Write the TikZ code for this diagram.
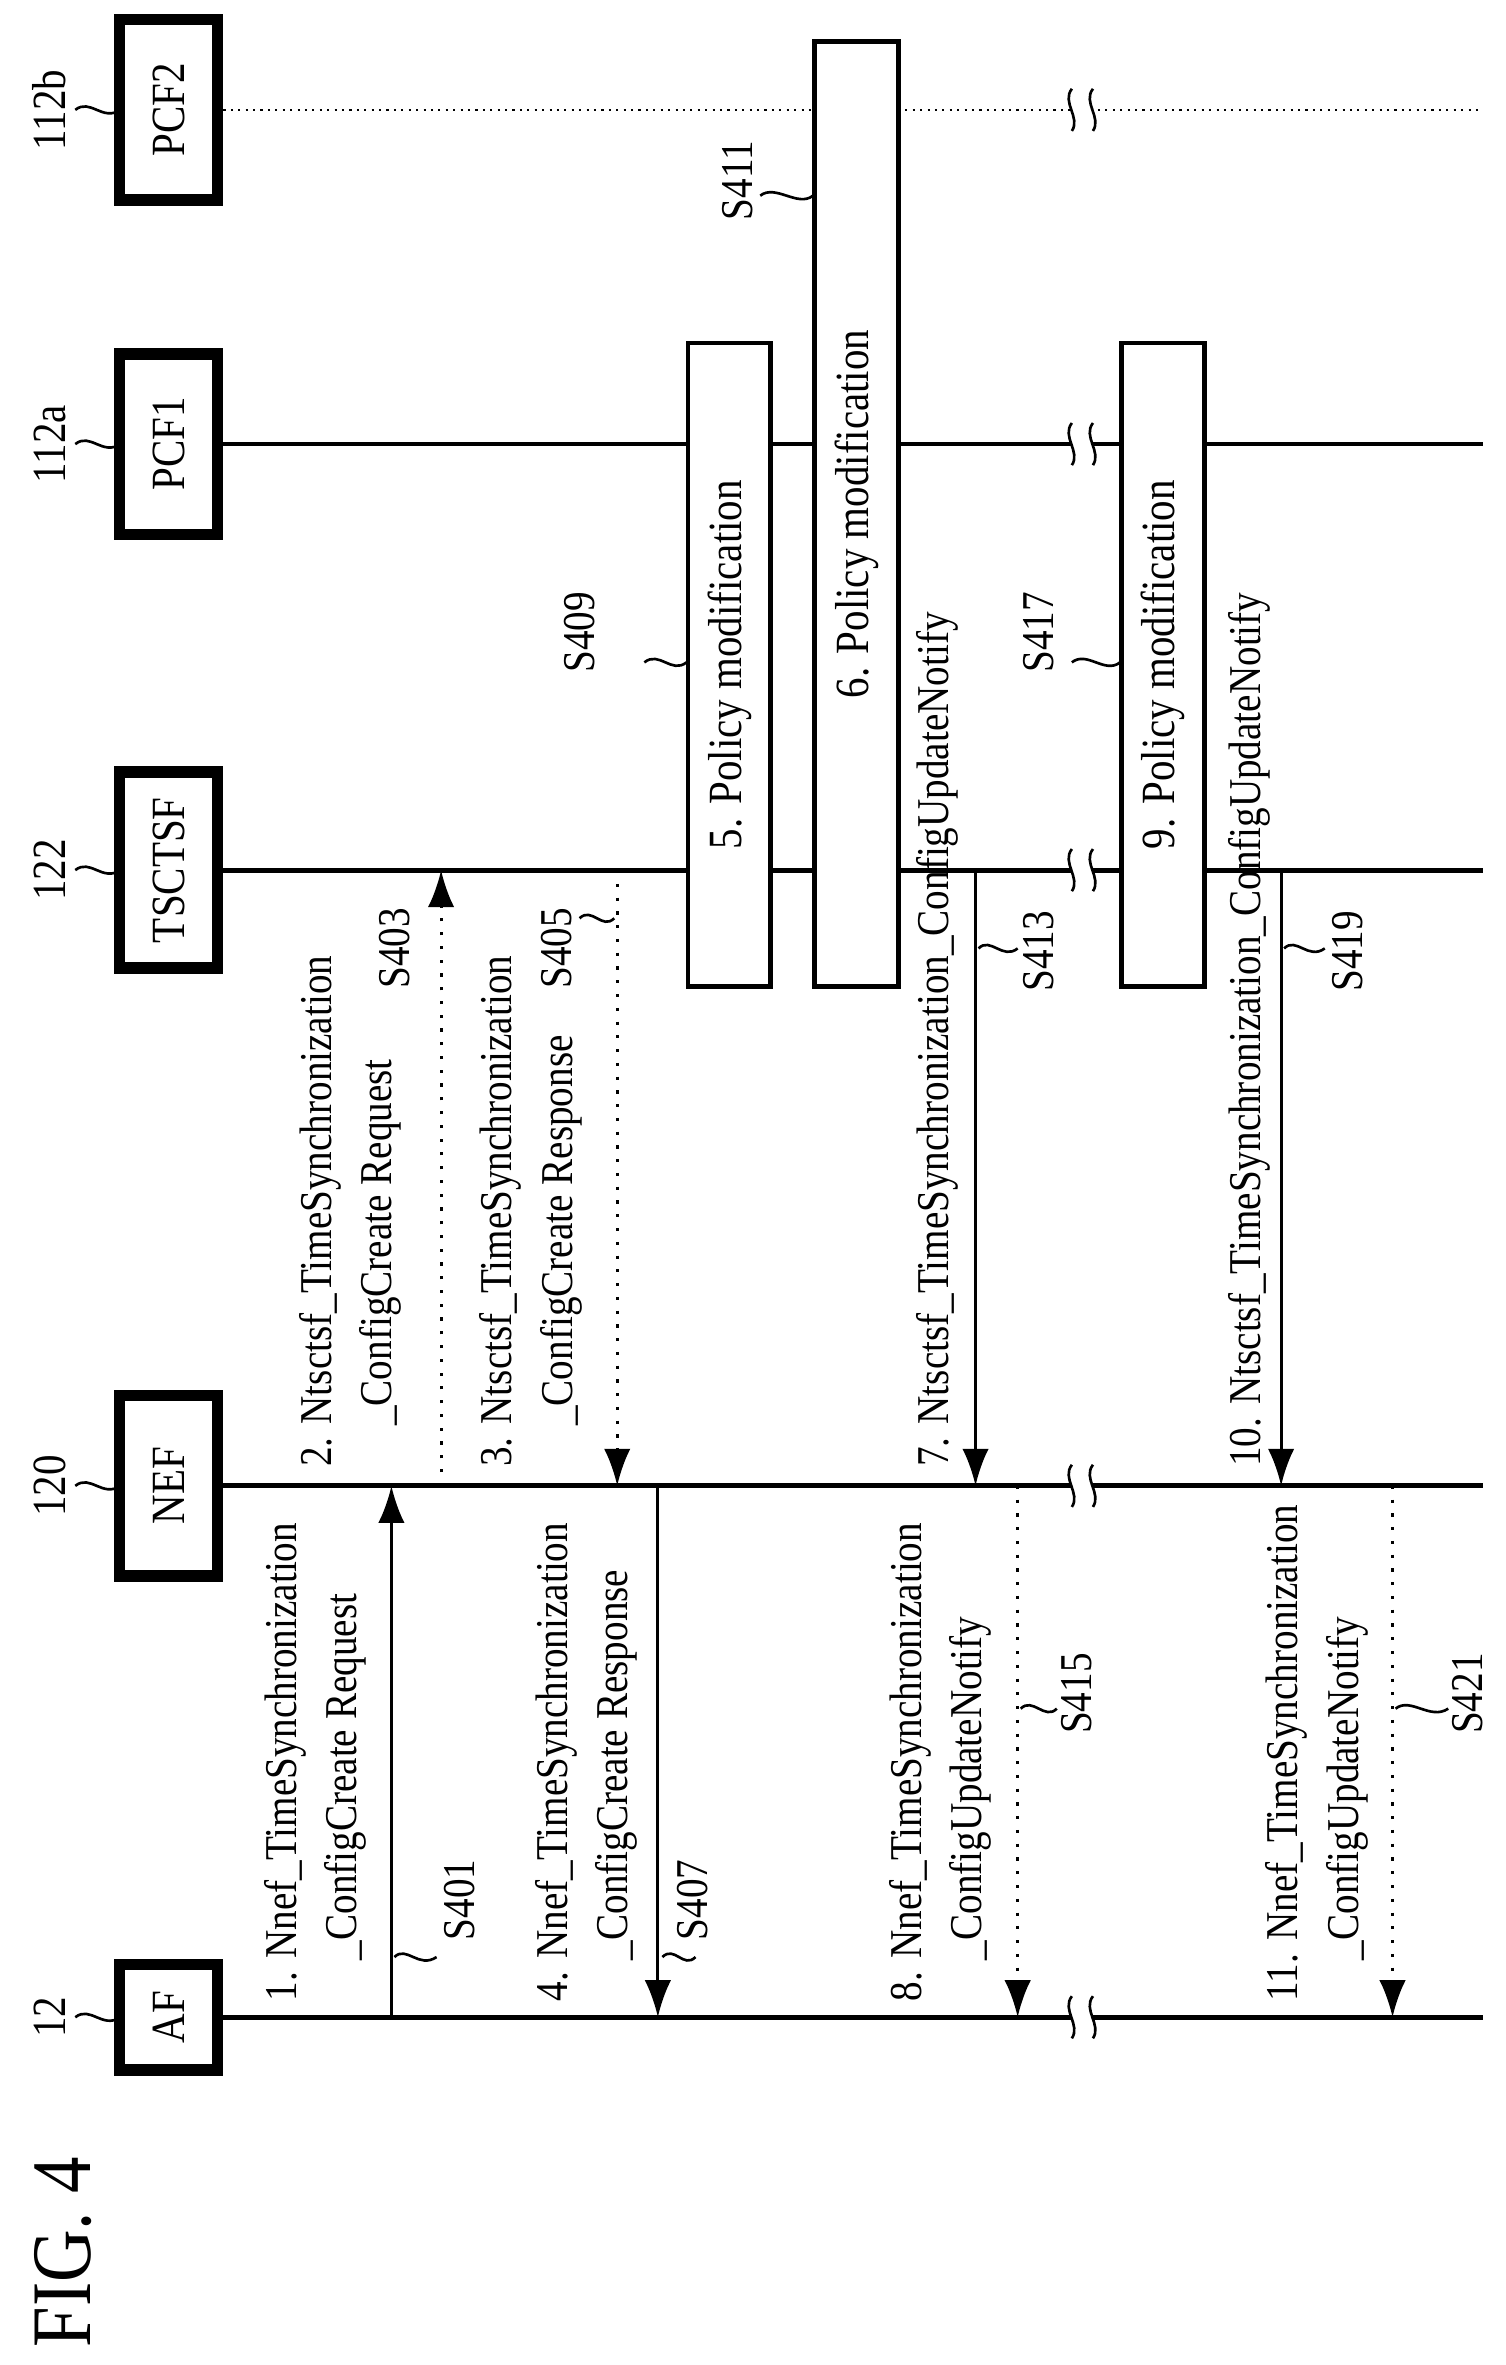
\documentclass[tikz,border=0pt]{standalone}
\usepackage{fontspec}
\setmainfont{Liberation Serif}[FakeStretch=0.86]
\begin{document}
\begin{tikzpicture}[x=0.01cm,y=-0.01cm,
  ent/.style={draw,line width=2.2pt,minimum width=0.65cm,minimum height=1.2cm,inner sep=0pt},
  life/.style={line width=0.9pt},
  msg/.style={line width=0.6pt,-{Latex[length=7pt,width=5pt]}},
  dmsg/.style={line width=0.6pt,dotted,-{Latex[length=7pt,width=5pt]}},
  lab/.style={rotate=90,anchor=north west,align=left,inner sep=0pt,font=\fontsize{8.6}{11.4}\selectfont},
  sl/.style={rotate=90,inner sep=0pt,font=\fontsize{8.6}{10}\selectfont},
  actbox/.style={draw,fill=white,line width=0.9pt},
  lead/.style={line width=0.5pt}]
\usetikzlibrary{arrows.meta}
\useasboundingbox (0,0) rectangle (1000,1571);
% lifelines
\coordinate (afE) at (985,1340); \coordinate (nefE) at (985,987);
\coordinate (tsE) at (985,578); \coordinate (p1E) at (985,295); \coordinate (p2E) at (985,73);
\node[ent,minimum height=0.7cm] (af) at (112,1340) {}; \node[rotate=90,font=\fontsize{9}{10}\selectfont] at (af) {AF};
\node[ent] (nef) at (112,987) {}; \node[rotate=90,font=\fontsize{9}{10}\selectfont] at (nef) {NEF};
\node[ent,minimum height=1.3cm] (ts) at (112,578) {}; \node[rotate=90,font=\fontsize{9}{10}\selectfont] at (ts) {TSCTSF};
\node[ent] (p1) at (112,295) {}; \node[rotate=90,font=\fontsize{9}{10}\selectfont] at (p1) {PCF1};
\node[ent] (p2) at (112,73) {}; \node[rotate=90,font=\fontsize{9}{10}\selectfont] at (p2) {PCF2};
\draw[life] (af.east) -- (afE);
\draw[life] (nef.east) -- (nefE);
\draw[life] (ts.east) -- (tsE);
\draw[life] (p1.east) -- (p1E);
\draw[line width=0.4pt,densely dotted] (p2.east) -- (p2E);
% ref labels
\foreach \y/\t in {1340/12,987/120,578/122,295/112a,73/112b}{
  \node[sl,font=\fontsize{9}{10}\selectfont] at (33,\y) {\t};
  \draw[lead] (50,\y) .. controls (60,\y-8) and (68,\y+8) .. (80,\y);
}
\node[rotate=90,anchor=west,inner sep=0pt,font=\fontsize{16}{18}\selectfont] (fig) at (42,1560) {FIG. 4};
% breaks
\foreach \y in {1340,987,578,295,73}{
  \fill[white] (712,\y-14) rectangle (726,\y+14);
  \draw[lead] (712,\y-14) .. controls (705,\y-5) and (718,\y+5) .. (712,\y+14);
  \draw[lead] (726,\y-14) .. controls (719,\y-5) and (732,\y+5) .. (726,\y+14);
}
% activation boxes
\node[actbox,minimum width=0.55cm,minimum height=4.27cm,inner sep=0pt] (b5) at (484.5,441.5) {};
\node[sl,font=\fontsize{9}{10}\selectfont] at (b5) {5. Policy modification};
\node[actbox,minimum width=0.56cm,minimum height=6.27cm,inner sep=0pt] (b6) at (569,341.5) {};
\node[sl,font=\fontsize{9}{10}\selectfont] at (b6) {6. Policy modification};
\node[actbox,minimum width=0.55cm,minimum height=4.27cm,inner sep=0pt] (b9) at (772.5,441.5) {};
\node[sl,font=\fontsize{9}{10}\selectfont] at (b9) {9. Policy modification};
% messages
\coordinate (m1a) at (260,1340); \coordinate (m1b) at (260,987);
\coordinate (m2a) at (293,987); \coordinate (m2b) at (293,578);
\coordinate (m3a) at (410,578); \coordinate (m3b) at (410,987);
\coordinate (m4a) at (437,987); \coordinate (m4b) at (437,1340);
\coordinate (m7a) at (648,578); \coordinate (m7b) at (648,987);
\coordinate (m8a) at (676,987); \coordinate (m8b) at (676,1340);
\coordinate (m10a) at (851,578); \coordinate (m10b) at (851,987);
\coordinate (m11a) at (925,987); \coordinate (m11b) at (925,1340);
\draw[msg] (m1a) -- (m1b);
\draw[dmsg] (m2a) -- (m2b);
\draw[dmsg] (m3a) -- (m3b);
\draw[msg] (m4a) -- (m4b);
\draw[msg] (m7a) -- (m7b);
\draw[dmsg] (m8a) -- (m8b);
\draw[msg] (m10a) -- (m10b);
\draw[dmsg] (m11a) -- (m11b);
% message labels
\node[lab] (l1) at (175,1330) {1. Nnef\_TimeSynchronization\\\hspace*{0.9em}\_ConfigCreate Request};
\node[lab] (l2) at (198,975) {2. Ntsctsf\_TimeSynchronization\\\hspace*{0.9em}\_ConfigCreate Request};
\node[lab] (l3) at (318,975) {3. Ntsctsf\_TimeSynchronization\\\hspace*{0.9em}\_ConfigCreate Response};
\node[lab] (l4) at (355,1330) {4. Nnef\_TimeSynchronization\\\hspace*{0.9em}\_ConfigCreate Response};
\node[lab] (l7) at (608,975) {7. Ntsctsf\_TimeSynchronization\_ConfigUpdateNotify};
\node[lab] (l8) at (590,1330) {8. Nnef\_TimeSynchronization\\\hspace*{0.9em}\_ConfigUpdateNotify};
\node[lab] (l10) at (815,975) {10. Ntsctsf\_TimeSynchronization\_ConfigUpdateNotify};
\node[lab] (l11) at (840,1330) {11. Nnef\_TimeSynchronization\\\hspace*{0.9em}\_ConfigUpdateNotify};
% step labels
\node[sl] (s401) at (305,1262) {S401}; \draw[lead] (262,1300) .. controls (270,1292) and (278,1308) .. (290,1300);
\node[sl] (s403) at (262,630) {S403};
\node[sl] (s405) at (370,630) {S405}; \draw[lead] (385,610) .. controls (393,602) and (400,618) .. (408,610);
\node[sl] (s407) at (460,1262) {S407}; \draw[lead] (440,1300) .. controls (448,1292) and (454,1308) .. (462,1300);
\node[sl] (s409) at (385,420) {S409}; \draw[lead] (428,440) .. controls (438,432) and (446,448) .. (456,440);
\node[sl] (s411) at (490,120) {S411}; \draw[lead] (505,130) .. controls (515,122) and (530,138) .. (540,130);
\node[sl] (s413) at (690,632) {S413}; \draw[lead] (650,630) .. controls (658,622) and (666,638) .. (676,630);
\node[sl] (s415) at (715,1125) {S415}; \draw[lead] (678,1135) .. controls (686,1127) and (694,1143) .. (702,1135);
\node[sl] (s417) at (690,420) {S417}; \draw[lead] (712,440) .. controls (722,432) and (734,448) .. (744,440);
\node[sl] (s419) at (895,632) {S419}; \draw[lead] (853,630) .. controls (861,622) and (869,638) .. (880,630);
\node[sl] (s421) at (975,1125) {S421}; \draw[lead] (927,1135) .. controls (937,1127) and (950,1143) .. (962,1135);
\end{tikzpicture}
\end{document}
